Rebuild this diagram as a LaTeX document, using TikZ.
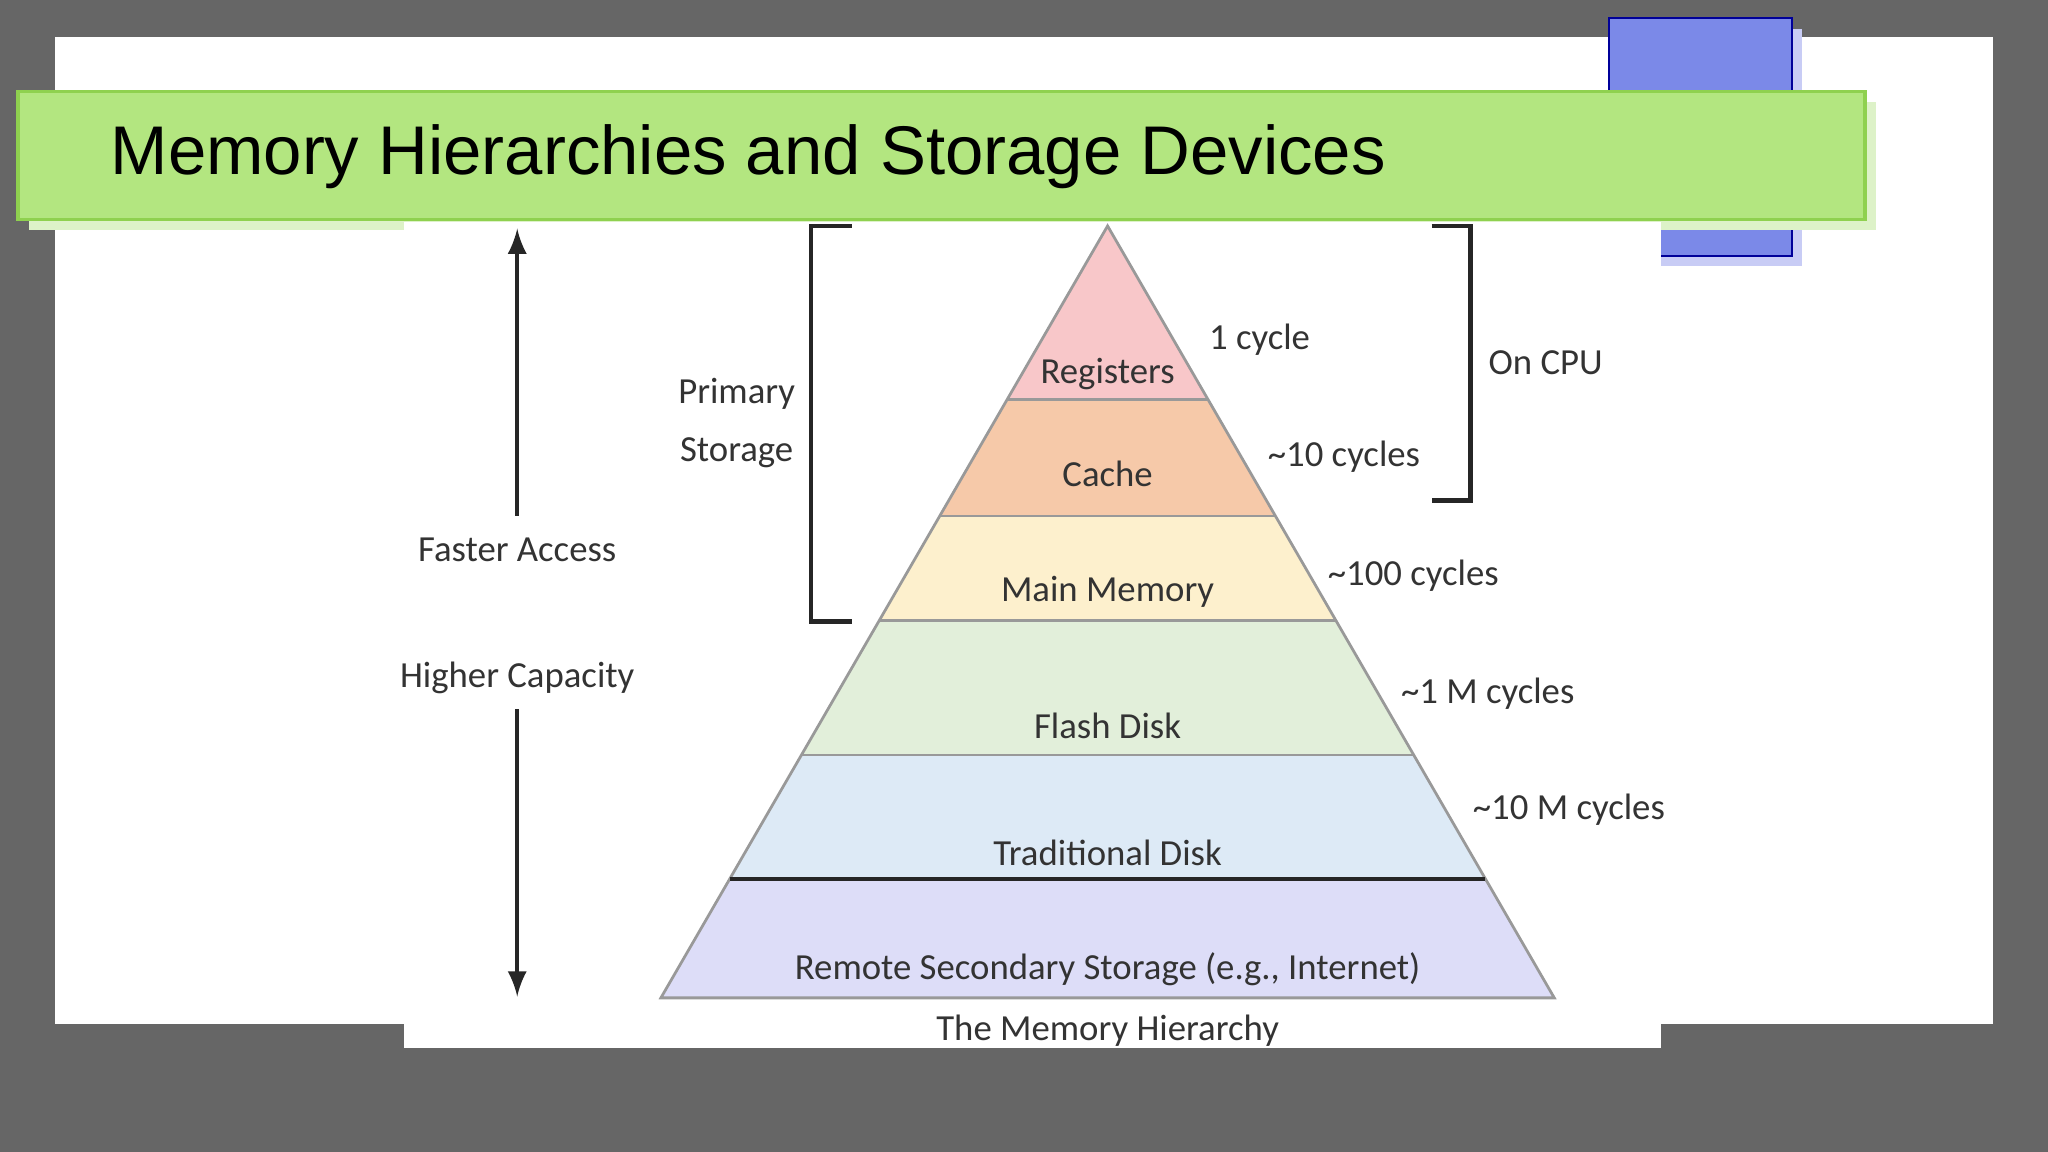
\documentclass[tikz,border=0pt]{standalone}
\usepackage{fontspec}
\setmainfont{Carlito}
\newfontfamily\titlefont{Liberation Sans}
\usetikzlibrary{calc}
\definecolor{bggray}{HTML}{666666}
\definecolor{tgreen}{HTML}{B3E680}
\definecolor{tgreenb}{HTML}{8FD14F}
\definecolor{tgreens}{HTML}{DDF2C8}
\definecolor{bsq}{HTML}{7B89E8}
\definecolor{bsqs}{HTML}{C8CCF5}
\definecolor{cReg}{HTML}{F8C7C9}
\definecolor{cCache}{HTML}{F6C9A9}
\definecolor{cMain}{HTML}{FDF0CD}
\definecolor{cFlash}{HTML}{E2EFDA}
\definecolor{cTrad}{HTML}{DDEAF6}
\definecolor{cRem}{HTML}{DDDDF8}
\definecolor{txt}{HTML}{333333}
\tikzset{
  lbl/.style={font=\fontsize{8}{9.5}\selectfont, text=txt, inner sep=0pt},
  cyc/.style={lbl, anchor=west},
  band/.style={draw=gray!80, line width=0.6pt},
  brk/.style={draw=black!85, line width=1pt},
  arr/.style={draw=black!85, line width=0.9pt, -latex}
}
\begin{document}
\begin{tikzpicture}[x=0.01cm,y=-0.01cm]
\useasboundingbox (0,0) rectangle (1568,882);
\fill[bggray] (0,0) rectangle (1568,882);
\fill[white] (42,28) rectangle (1526,784);
% blue square
\fill[bsqs] (1240,22) rectangle (1380,204);
\fill[bsq] (1232,14) rectangle (1372,196);
\draw[blue!60!black, line width=0.5pt] (1232,14) rectangle (1372,196);
% title bar
\fill[tgreens] (22,78) rectangle (1436,176);
\fill[tgreen] (14,70) rectangle (1428,168);
\draw[tgreenb, line width=0.8pt] (14,70) rectangle (1428,168);
\node[anchor=west, font=\titlefont\fontsize{15}{18}\selectfont, inner sep=0pt] (title) at (84,120) {Memory Hierarchies and Storage Devices};
% image area
\fill[white] (309,170) rectangle (1272,802);
% pyramid
\coordinate (A) at (848,173);
\coordinate (BL) at (506,764);
\coordinate (BR) at (1190,764);
\foreach \n/\t in {1/0.225,2/0.3756,3/0.5110,4/0.6853,5/0.8460}{
  \coordinate (L\n) at ($(A)!\t!(BL)$);
  \coordinate (R\n) at ($(A)!\t!(BR)$);
}
\fill[cReg] (A) -- (L1) -- (R1) -- cycle;
\fill[cCache] (L1) -- (L2) -- (R2) -- (R1) -- cycle;
\fill[cMain] (L2) -- (L3) -- (R3) -- (R2) -- cycle;
\fill[cFlash] (L3) -- (L4) -- (R4) -- (R3) -- cycle;
\fill[cTrad] (L4) -- (L5) -- (R5) -- (R4) -- cycle;
\fill[cRem] (L5) -- (BL) -- (BR) -- (R5) -- cycle;
\draw[band] (A) -- (BL) -- (BR) -- cycle;
\foreach \n in {1,...,4}{\draw[band] (L\n) -- (R\n);}
\draw[black!85, line width=0.8pt] (L5) -- (R5);
% band labels
\node[lbl] (reg) at (848,286) {Registers};
\node[lbl] (cache) at (848,363) {Cache};
\node[lbl] (main) at (848,453) {Main Memory};
\node[lbl] (flash) at (848,556) {Flash Disk};
\node[lbl] (trad) at (848,653) {Traditional Disk};
\node[lbl] (rem) at (848,742) {Remote Secondary Storage (e.g., Internet)};
\node[lbl] (cap) at (848,789) {The Memory Hierarchy};
% cycles
\node[cyc] (c1) at (925,260) {1 cycle};
\node[cyc] (c2) at (970,350) {\textasciitilde10 cycles};
\node[cyc] (c3) at (1016,441) {\textasciitilde100 cycles};
\node[cyc] (c4) at (1072,531) {\textasciitilde1 M cycles};
\node[cyc] (c5) at (1127,620) {\textasciitilde10 M cycles};
% brackets
\draw[brk] (652,173) -- (621,173) -- (621,476) -- (652,476);
\draw[brk] (1096,173) -- (1126,173) -- (1126,383) -- (1096,383);
\node[lbl, align=center, font=\fontsize{8}{12.5}\selectfont] (prim) at (564,324) {Primary\\Storage};
\node[cyc] (oncpu) at (1139,278) {On CPU};
% arrows
\node[lbl] (fast) at (396,421) {Faster Access};
\node[lbl] (high) at (396,519) {Higher Capacity};
\coordinate (topA) at (396,175);
\coordinate (botA) at (396,763);
\draw[arr] (396,395) -- (topA);
\draw[arr] (396,543) -- (botA);
\end{tikzpicture}
\end{document}
